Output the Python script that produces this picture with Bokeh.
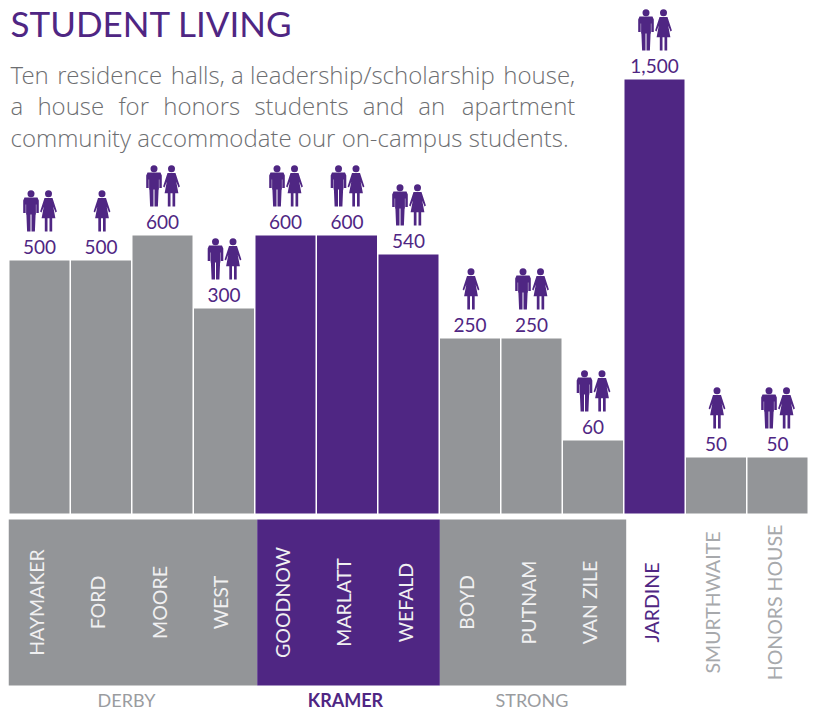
from math import pi
from bokeh.plotting import figure
from bokeh.core.properties import value
from bokeh.embed import file_html
from bokeh.resources import INLINE

halls = ["HAYMAKER", "FORD", "MOORE", "WEST", "GOODNOW", "MARLATT", "WEFALD",
         "BOYD", "PUTNAM", "VAN ZILE", "JARDINE", "SMURTHWAITE", "HONORS HOUSE"]
value_labels = ["500", "500", "600", "300", "600", "600", "540",
                "250", "250", "60", "1,500", "50", "50"]
# Bar lengths as drawn in the picture (the source graphic is not proportional to its labels)
bar_lengths = [253, 253, 278, 205, 278, 278, 259, 175, 175, 73, 434, 56, 56]
highlight = [False, False, False, False, True, True, True,
             False, False, False, True, False, False]
icon_kind = ["both", "woman", "both", "both", "both", "both", "both",
             "woman", "both", "both", "both", "woman", "both"]
groups = ["DERBY", "KRAMER", "STRONG"]
group_left = [-0.5, 3.54, 6.51]
group_right = [3.54, 6.51, 9.54]
title = "STUDENT LIVING"
para = ["Ten \u200aresidence \u200ahalls, a leadership/scholarship \u200ahouse,",
        "a \u2004house \u2004for \u2004honors \u2004students \u2004and \u2004an \u200a\u2004apartment",
        "community accommodate our on-campus students."]

PURPLE = "#4f2683"
GREY = "#939598"
LIGHT = "#a7a9ac"
W, H = 815, 709
PX = 61.5           # pixels per hall
X0, Y0 = 39, 513    # hall 0 centre / bar baseline in the page

p = figure(width=W, height=H, output_backend="svg", toolbar_location=None,
           x_range=(-X0 / PX, (W - X0) / PX), y_range=(Y0 - H, Y0),
           min_border=0, outline_line_color=None)
p.axis.visible = False
p.grid.visible = False

def fx(px):   # page pixel to x-scale
    return (px - X0) / PX

def fy(px):   # page pixel to y-scale
    return Y0 - px

n = len(halls)
idx = list(range(n))
BW = 60 / PX

# bars
p.vbar(x=idx, top=bar_lengths, bottom=0, width=BW,
       fill_color=[PURPLE if h else GREY for h in highlight], line_color=None)

# group panels
p.quad(left=group_left, right=group_right, top=[fy(519)] * 3, bottom=[fy(685)] * 3,
       fill_color=[GREY, PURPLE, GREY], line_color=None)

# pictograms
MAN = [(-3.9, 0), (-0.5, 0), (-0.5, 17), (0.5, 17), (0.5, 0), (3.9, 0), (4.6, 17), (4.9, 17),
       (4.9, 27), (5.3, 27), (5.3, 18.5), (7.8, 18.5), (7.8, 31), (6.5, 34), (-6.5, 34),
       (-7.8, 31), (-7.8, 18.5), (-5.3, 18.5), (-5.3, 27), (-4.9, 27), (-4.9, 17), (-4.6, 17)]
WOMAN = [(-3.7, 0), (-1, 0), (-1, 13.3), (1, 13.3), (1, 0), (3.7, 0), (3.7, 13.3), (6.9, 13.3),
         (4.7, 25), (7, 19), (8.4, 20), (4, 33.5), (-4, 33.5), (-8.4, 20), (-7, 19), (-4.7, 25),
         (-6.9, 13.3), (-3.7, 13.3)]
xs, ys, hx, hy = [], [], [], []
for i in idx:
    base = bar_lengths[i] + 29
    parts = [(WOMAN, 1)] if icon_kind[i] == "woman" else [(MAN, -8.5), (WOMAN, 9)]
    for shape, off in parts:
        xs.append([i + (off + a) / PX for a, b in shape])
        ys.append([base + b for a, b in shape])
        hx.append(i + off / PX)
        hy.append(base + 37.8)
p.patches(xs, ys, fill_color=PURPLE, line_color=None)
p.scatter(hx, hy, size=7, marker="circle", fill_color=PURPLE, line_color=None)

# value labels
p.text(idx, [v + 14 for v in bar_lengths], text=value_labels, text_color=PURPLE,
       text_font=value("Lato"), text_font_size="19px", text_align="center",
       text_baseline="middle")

# hall labels
colors = ["#f0f0f1"] * 10 + [PURPLE, LIGHT, LIGHT]
p.text([i - 3.5 / PX for i in idx], [fy(602)] * n, text=halls, angle=pi / 2, text_color=colors,
       text_font=value("Lato"), text_font_size="19.5px", text_align="center",
       text_baseline="middle")

# group names
p.text([fx(126), fx(531.5)], [fy(699)] * 2, text=[groups[0], groups[2]],
       text_color="#9a9c9f", text_font=value("Lato"), text_font_size="18px",
       text_align="center", text_baseline="middle")
p.text([fx(345)], [fy(699)], text=[groups[1]], text_color=PURPLE, text_font=value("Lato"),
       text_font_size="18px", text_font_style="bold", text_align="center",
       text_baseline="middle")

# title and paragraph
p.text([fx(10)], [fy(22)], text=[title], text_color=PURPLE, text_font=value("Lato"),
       text_font_size="35px", text_baseline="middle")
p.text([fx(10)] * 3, [fy(73.5), fy(105), fy(136.5)], text=para,
       text_color="#6d6e71", text_font=value("Open Sans Light"), text_font_size="24px",
       text_baseline="middle")

open("out.html", "w").write(file_html(p, INLINE))
